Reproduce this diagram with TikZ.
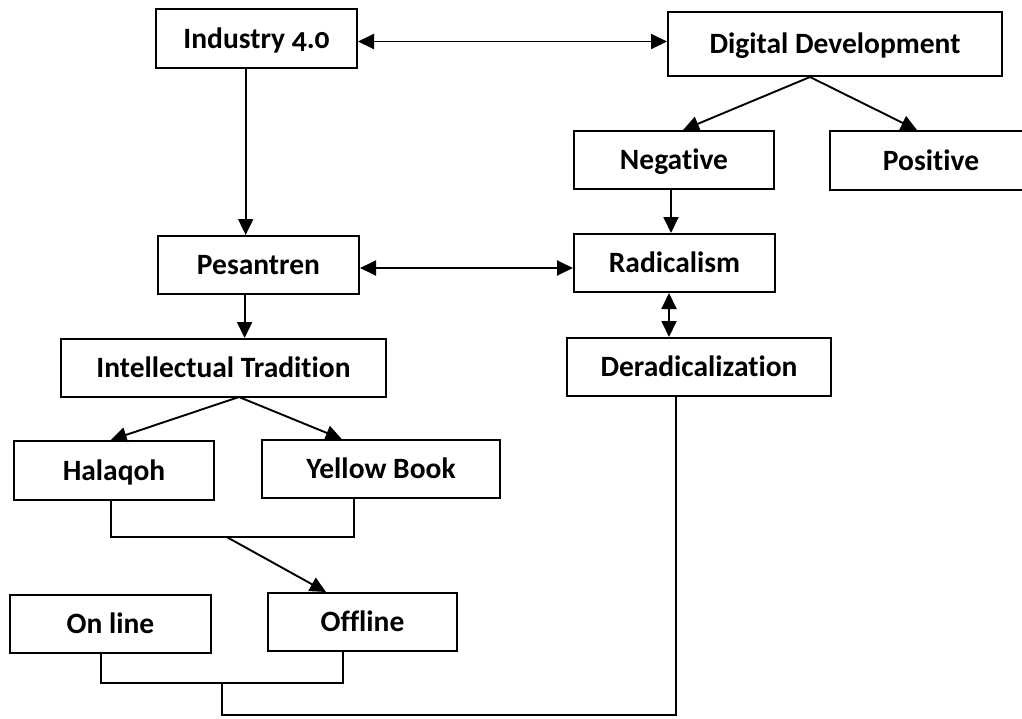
\documentclass[tikz,border=0pt]{standalone}
\usepackage{fontspec}
\setmainfont{Carlito}[Numbers=OldStyle, Ligatures={NoCommon}]
\usetikzlibrary{arrows.meta}
\begin{document}
\begin{tikzpicture}[x=1pt,y=-1pt,
  box/.style={draw, line width=2pt, rectangle, inner sep=0pt,
    text height=19.5pt, text depth=0pt,
    font=\fontsize{29.5}{35}\selectfont\bfseries},
  conn/.style={line width=1.9pt},
  tip/.tip={Triangle[length=16pt,width=15pt]},
  arr/.style={conn, -tip},
  dbl/.style={conn, tip-tip}]
\useasboundingbox (0,0) rectangle (1022,718);
\clip (0,0) rectangle (1022,718);
% nodes
\node[box, minimum width=201pt, minimum height=59pt] (ind) at (256.5,38.5) {Industry 4.0};
\node[box, minimum width=334pt, minimum height=64pt] (dd) at (835,44) {Digital Development};
\node[box, minimum width=200pt, minimum height=58pt] (neg) at (674,160) {Negative};
\node[box, minimum width=202pt, minimum height=59pt] (pos) at (931,160.5) {Positive};
\node[box, minimum width=201pt, minimum height=58pt] (pes) at (258.5,265) {Pesantren};
\node[box, minimum width=201pt, minimum height=58pt] (rad) at (674.5,263) {Radicalism};
\node[box, minimum width=325pt, minimum height=58pt] (it) at (223.5,368) {Intellectual Tradition};
\node[box, minimum width=264pt, minimum height=58pt] (ded) at (699,367) {Deradicalization};
\node[box, minimum width=200pt, minimum height=59pt] (hal) at (114,470.5) {Halaqoh};
\node[box, minimum width=238pt, minimum height=58pt] (yb) at (381,469) {Yellow Book};
\node[box, minimum width=201pt, minimum height=58pt] (on) at (110.5,624) {On line};
\node[box, minimum width=189pt, minimum height=58pt] (off) at (362.5,622) {Offline};
% helper coordinates
\coordinate (yA) at (0,41.5);
\coordinate (xA) at (245.7,0);
\coordinate (xB) at (671,0);
\coordinate (yB) at (0,268);
\coordinate (xC) at (669,0);
\coordinate (xD) at (244.6,0);
\coordinate (itout) at (239,397);
\coordinate (b1) at (110.7,536.7);
\coordinate (b2) at (354,536.7);
\coordinate (b3) at (226.7,537);
\coordinate (c1) at (101,683.3);
\coordinate (c2) at (343.3,683.3);
\coordinate (c3) at (222.3,683.3);
\coordinate (d1) at (222.3,715);
\coordinate (d2) at (676,715);
% connectors
\draw[dbl] (ind.east |- yA) -- (dd.west |- yA);
\draw[arr] (ind.south -| xA) -- (pes.north -| xA);
\draw[arr] ([xshift=-25pt]dd.south) -- ([xshift=9pt]neg.north);
\draw[arr] ([xshift=-25pt]dd.south) -- ([xshift=-14pt]pos.north);
\draw[arr] (neg.south -| xB) -- (rad.north -| xB);
\draw[dbl] (pes.east |- yB) -- (rad.west |- yB);
\draw[dbl] (rad.south -| xC) -- (ded.north -| xC);
\draw[arr] (pes.south -| xD) -- (it.north -| xD);
\draw[arr] (itout) -- (hal.north -| b1);
\draw[arr] (itout) -- ([xshift=-39.3pt]yb.north);
\draw[conn] (hal.south -| b1) -- (b1) -- (b2) -- (yb.south -| b2);
\draw[arr] (b3) -- ([xshift=-36.5pt]off.north);
\draw[conn] (on.south -| c1) -- (c1) -- (c2) -- (off.south -| c2);
\draw[conn] (c3) -- (d1) -- (d2) -- (ded.south -| d2);
\end{tikzpicture}
\end{document}
